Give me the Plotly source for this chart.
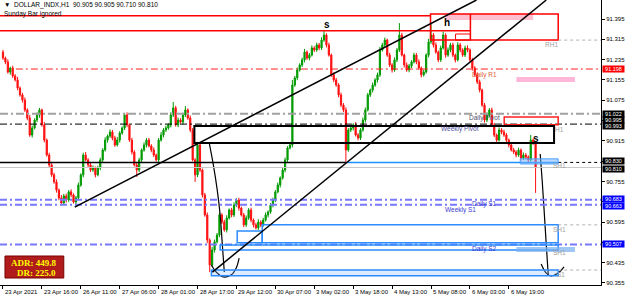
import plotly.graph_objects as go

# ---------------- data ----------------
tick_bars = [0, 16, 32, 48, 64, 80, 96, 112, 128, 144, 160, 176, 192, 208]
tick_labels = ["23 Apr 2021", "23 Apr 16:00", "26 Apr 11:00", "27 Apr 06:00", "28 Apr 01:00",
               "28 Apr 17:00", "29 Apr 12:00", "30 Apr 07:00", "3 May 02:00", "3 May 18:00",
               "4 May 13:00", "5 May 08:00", "6 May 03:00", "6 May 19:00"]

first_open = 91.265
closes = [
    91.241, 91.226, 91.186, 91.202, 91.171, 91.155, 91.123, 91.096, 91.076, 91.037,
    91.005, 90.938, 90.966, 90.997, 91.017, 91.037, 90.978, 90.918, 90.859, 90.820,
    90.781, 90.753, 90.721, 90.690, 90.670, 90.698, 90.682, 90.714, 90.702, 90.674,
    90.690, 90.741, 90.781, 90.859, 90.840, 90.820, 90.800, 90.808, 90.781, 90.808,
    90.840, 90.879, 90.918, 90.934, 90.950, 90.926, 90.899, 90.918, 90.946, 90.966,
    91.017, 90.978, 90.918, 90.871, 90.820, 90.800, 90.840, 90.879, 90.899, 90.918,
    90.895, 90.879, 90.859, 90.840, 90.918, 90.938, 90.958, 90.966, 90.978, 91.017,
    91.045, 90.978, 90.997, 90.989, 91.017, 91.037, 91.005, 90.958, 90.840, 90.781,
    90.899, 90.800, 90.702, 90.623, 90.524, 90.426, 90.485, 90.517, 90.544, 90.623,
    90.595, 90.564, 90.611, 90.643, 90.623, 90.662, 90.682, 90.650, 90.623, 90.584,
    90.611, 90.643, 90.603, 90.584, 90.572, 90.595, 90.584, 90.603, 90.623, 90.635,
    90.662, 90.682, 90.714, 90.741, 90.769, 90.800, 90.840, 90.887, 90.899, 91.135,
    91.163, 91.194, 91.214, 91.234, 91.265, 91.241, 91.253, 91.281, 91.273, 91.293,
    91.281, 91.312, 91.332, 91.293, 91.253, 91.175, 91.155, 91.135, 91.096, 91.056,
    91.037, 90.879, 90.958, 90.966, 90.978, 90.938, 90.926, 90.958, 90.997, 91.037,
    91.096, 91.115, 91.135, 91.155, 91.175, 91.273, 91.293, 91.312, 91.253, 91.214,
    91.194, 91.234, 91.273, 91.332, 91.253, 91.214, 91.194, 91.210, 91.226, 91.253,
    91.226, 91.202, 91.175, 91.186, 91.253, 91.305, 91.332, 91.293, 91.265, 91.234,
    91.281, 91.332, 91.253, 91.273, 91.293, 91.253, 91.234, 91.293, 91.273, 91.253,
    91.281, 91.273, 91.234, 91.202, 91.175, 91.147, 91.115, 91.056, 90.997, 91.017,
    91.037, 90.978, 90.938, 90.918, 90.958, 90.950, 90.938, 90.918, 90.899, 90.879,
    90.871, 90.859, 90.879, 90.847, 90.859, 90.851, 90.840, 90.918, 90.905, 90.810,
]
# wick lengths above / below the body, in thousandths of a point
up_wick = [
    8, 6, 10, 5, 9, 7, 12, 6, 8, 10,  6, 12, 9, 7, 10, 8, 5, 11, 6, 9,
    7, 8, 10, 6, 12, 8, 9, 7, 10, 6,  8, 10, 6, 9, 12, 7, 8, 10, 6, 9,
    8, 7, 11, 6, 10, 8, 9, 12, 7, 6,  8, 10, 6, 9, 7, 11, 8, 6, 10, 8,
    9, 7, 10, 6, 8, 12, 7, 9, 6, 10,  23, 8, 10, 7, 9, 15, 6, 10, 8, 7,
    12, 9, 6, 8, 10, 7, 12, 9, 8, 10,  7, 9, 11, 6, 8, 10, 7, 9, 6, 8,
    10, 7, 9, 6, 8, 11, 7, 9, 10, 6,  8, 9, 7, 10, 6, 8, 9, 7, 10, 20,
    8, 10, 7, 9, 12, 6, 8, 10, 7, 9,  8, 11, 20, 7, 9, 6, 10, 8, 7, 9,
    8, 10, 7, 9, 6, 11, 8, 7, 10, 9,  8, 6, 10, 7, 9, 12, 8, 10, 6, 9,
    7, 10, 8, 47, 9, 6, 10, 8, 7, 9,  8, 10, 6, 9, 7, 12, 43, 8, 10, 6,
    9, 14, 7, 10, 8, 9, 6, 11, 8, 7,  9, 10, 6, 8, 7, 10, 9, 6, 8, 10,
    7, 9, 8, 6, 10, 7, 9, 8, 6, 10,  8, 7, 9, 6, 10, 8, 7, 20, 6, 0,
]
dn_wick = [
    7, 9, 6, 10, 8, 6, 9, 7, 10, 8,  9, 7, 10, 6, 8, 11, 7, 9, 6, 10,
    8, 7, 10, 9, 6, 8, 10, 7, 9, 6,  19, 8, 7, 10, 6, 9, 8, 7, 10, 6,
    9, 8, 6, 10, 7, 9, 8, 6, 10, 7,  8, 9, 7, 10, 6, 27, 8, 9, 7, 10,
    6, 9, 8, 7, 10, 6, 9, 8, 7, 10,  8, 7, 9, 6, 10, 8, 7, 9, 6, 28,
    9, 8, 10, 7, 12, 28, 8, 10, 6, 9,  8, 7, 10, 6, 9, 8, 7, 10, 6, 9,
    8, 7, 9, 10, 6, 8, 9, 7, 6, 10,  7, 9, 8, 6, 10, 7, 9, 8, 6, 10,
    7, 9, 6, 8, 10, 7, 9, 6, 8, 7,  9, 8, 7, 10, 6, 8, 9, 7, 10, 8,
    9, 51, 7, 8, 10, 6, 9, 8, 7, 10,  6, 8, 9, 7, 10, 8, 6, 9, 7, 8,
    10, 7, 9, 8, 6, 10, 7, 9, 8, 6,  9, 8, 10, 7, 6, 9, 8, 10, 7, 9,
    8, 6, 10, 7, 9, 8, 10, 6, 9, 7,  8, 9, 7, 10, 6, 8, 9, 7, 10, 8,
    9, 7, 8, 10, 6, 9, 7, 8, 10, 6,  8, 9, 7, 10, 6, 8, 9, 7, 6, 100,
]

# price levels of drawn objects
y_ticks = [91.395, 91.315, 91.235, 91.155, 91.075, 90.995, 90.915, 90.835,
           90.755, 90.675, 90.595, 90.515, 90.435, 90.355]
hidden_ticks = [90.995, 90.835, 90.675, 90.515]   # covered by the coloured price labels
daily_r1 = 91.198
daily_pivot = 91.022
weekly_pivot = 90.981
daily_s1 = 90.683
weekly_s1 = 90.663
daily_s2 = 90.507
support_line = 90.830
bid = 90.810

bars = list(range(len(closes)))
opens = [first_open] + closes[:-1]
highs = [round(max(o, c) + u / 1000, 3) for o, c, u in zip(opens, closes, up_wick)]
lows = [round(min(o, c) - d / 1000, 3) for o, c, d in zip(opens, closes, dn_wick)]

# ---------------- figure ----------------
FONT = "Liberation Sans"
X0, X1 = -1.23, 245.9
Y0, Y1 = 90.347, 91.470

fig = go.Figure()
fig.add_trace(go.Candlestick(
    x=bars, open=opens, high=highs, low=lows, close=closes,
    increasing=dict(line=dict(color="#009a00", width=1), fillcolor="#009a00"),
    decreasing=dict(line=dict(color="#ff1010", width=1), fillcolor="#ff1010"),
    whiskerwidth=0, hoverinfo="skip", showlegend=False,
))

shapes = []


def hline(y, x0, x1, color, width=1, dash="solid"):
    shapes.append(dict(type="line", xref="x", yref="y", x0=x0, x1=x1, y0=y, y1=y,
                       line=dict(color=color, width=width, dash=dash), layer="above"))


def rect(x0, x1, y0, y1, color, width=1, fill="rgba(0,0,0,0)", layer="above"):
    shapes.append(dict(type="rect", xref="x", yref="y", x0=x0, x1=x1, y0=y0, y1=y1,
                       line=dict(color=color, width=width), fillcolor=fill, layer=layer))


# top resistance zone (red)
rect(182.0, 218.0, 91.391, 91.415, "rgba(0,0,0,0)", 0, fill="rgba(255,170,190,0.75)", layer="below")
hline(91.408, X0, 175.8, "#ff0000", 1.5)
hline(91.349, X0, 192.2, "#ff0000", 1.5)
rect(175.8, 228.3, 91.312, 91.415, "#ff0000", 1.5)
shapes.append(dict(type="line", xref="x", yref="y", x0=192.2, x1=192.2, y0=91.312, y1=91.415,
                   line=dict(color="#ff0000", width=1.5)))
rect(186.1, 192.2, 91.312, 91.336, "#ff0000", 1)
hline(91.312, 228.3, X1, "#b0b0b0", 1, "dot")

# daily R1
hline(daily_r1, 5.3, X1, "#ff2020", 1, "7px,3px,2px,3px")
rect(211.1, 235.2, 91.147, 91.167, "rgba(0,0,0,0)", 0, fill="rgba(255,170,210,0.85)", layer="below")

# pivots
hline(daily_pivot, X0, X1, "#a0a0a0", 2, "8px,3px,2px,3px")
hline(weekly_pivot, X0, X1, "#000000", 1, "7px,3px,2px,3px")
rect(206.1, 228.3, 90.978, 91.009, "#ff2020", 1.5)
rect(78.7, 226.6, 90.907, 90.974, "#000000", 2)

# support line around 90.830
hline(support_line, X0, 141.0, "#000000", 1.5)
hline(support_line, 141.0, 228.3, "#1e8fff", 1.5)
hline(support_line, 228.3, X1, "#000000", 1, "dot")
hline(bid, X0, X1, "#c8c8c8", 1)
rect(212.7, 228.3, 90.824, 90.844, "#4aa0ff", 1, fill="rgba(120,180,255,0.5)")

# daily / weekly supports
for lv in (daily_s1, weekly_s1, daily_s2):
    hline(lv, X0, X1, "#7878ff", 2, "7px,3px,2px,3px")

# blue demand zones
rect(106.6, 228.3, 90.513, 90.584, "#2a8cff", 1.5)
rect(96.3, 106.6, 90.513, 90.560, "#2a8cff", 1.5)
rect(89.3, 228.3, 90.485, 90.505, "#2a8cff", 1.5)
rect(85.7, 228.3, 90.383, 90.406, "#2a8cff", 1.5, fill="rgba(120,180,255,0.25)")
rect(211.1, 235.2, 90.477, 90.497, "rgba(0,0,0,0)", 0, fill="rgba(120,175,240,0.7)")
hline(90.584, 228.3, X1, "#b0b0b0", 1, "dot")
hline(90.406, 228.3, X1, "#b0b0b0", 1, "dot")

# trend lines
shapes.append(dict(type="line", xref="x", yref="y", x0=29.5, y0=90.654, x1=194.7, y1=91.470,
                   line=dict(color="#000000", width=1.5)))
shapes.append(dict(type="line", xref="x", yref="y", x0=86.1, y0=90.398, x1=223.4, y1=91.470,
                   line=dict(color="#000000", width=1.5)))

# ADR box (paper coords)
shapes.append(dict(type="rect", xref="paper", yref="paper", x0=5 / 603, x1=64 / 603,
                   y0=1 - 278 / 285, y1=1 - 256 / 285, fillcolor="#b01c1c",
                   line=dict(color="#7a0000", width=1)))

# hand-drawn arrows
arrow1_x = [84.8, 86.5, 88.1, 89.3, 90.2, 91.0]
arrow1_y = [90.907, 90.820, 90.721, 90.623, 90.505, 90.398]
curl1_x = [85.7, 87.7, 90.6, 93.9, 95.9, 97.1]
curl1_y = [90.426, 90.398, 90.379, 90.387, 90.414, 90.453]
arrow2_x = [220.9, 221.7, 222.5, 223.4, 224.2]
arrow2_y = [90.863, 90.761, 90.643, 90.505, 90.387]
curl2_x = [221.3, 223.4, 225.4, 228.3, 230.7]
curl2_y = [90.430, 90.394, 90.383, 90.394, 90.418]
for xs, ys in ((arrow1_x, arrow1_y), (curl1_x, curl1_y), (arrow2_x, arrow2_y), (curl2_x, curl2_y)):
    fig.add_trace(go.Scatter(x=xs, y=ys, mode="lines", line=dict(color="#000000", width=1.2, shape="spline"),
                             hoverinfo="skip", showlegend=False))

annotations = []


def txt(x, y, s, color="#000000", size=6.5, xanchor="center", xref="x", yref="y", family=FONT, bold=False):
    annotations.append(dict(x=x, y=y, xref=xref, yref=yref, text=("<b>%s</b>" % s) if bold else s,
                            showarrow=False, xanchor=xanchor, yanchor="middle",
                            font=dict(color=color, size=size, family=family)))


txt(133.2, 91.372, "s", size=10, bold=True)
txt(182.4, 91.383, "h", size=10, bold=True)
txt(219.3, 90.926, "s", size=10, bold=True)
txt(225.4, 91.293, "RH1", "#a0a0a0")
txt(198.0, 91.175, "Daily R1", "#e0603a")
txt(198.0, 91.005, "Daily Pivot", "#505070")
txt(188.0, 90.962, "Weekly Pivot", "#5050a0")
txt(229.0, 90.958, "H1", "#a0a0a0")
txt(229.0, 90.816, "SH1", "#a0a0a0")
txt(198.0, 90.666, "Daily S1", "#3a3ad0")
txt(188.0, 90.643, "Weekly S1", "#3a3ad0")
txt(229.0, 90.564, "SH1", "#a0a0a0")
txt(198.0, 90.489, "Daily S2", "#3a3ad0")
txt(229.0, 90.477, "SH1", "#a0a0a0")
txt(229.5, 90.387, "S1", "#a0a0a0")

# header
txt(2 / 603, 1 - 5 / 285, "\u25bc  DOLLAR_INDX,H1  90.905 90.905 90.710 90.810", size=6.5, xanchor="left",
    xref="paper", yref="paper")
txt(2 / 603, 1 - 14 / 285, "Sunday Bar ignored", size=6.5, xanchor="left", xref="paper", yref="paper")

# ADR text
txt(58 / 603, 1 - 263 / 285, "ADR: 449.8", "#ffff00", 9, "right", "paper", "paper", "Liberation Serif", True)
txt(58 / 603, 1 - 273 / 285, "DR: 225.0", "#ffff00", 9, "right", "paper", "paper", "Liberation Serif", True)

# date labels
for b, lab in zip(tick_bars, tick_labels):
    annotations.append(dict(x=b, y=0, xref="x", yref="paper", yshift=-2, text=lab, showarrow=False,
                            xanchor="left", yanchor="top", font=dict(size=6, family=FONT, color="#000000")))

# price labels on the axis: (level, text, background, vertical nudge in px)
axis_labels = [(daily_r1, "91.198", "#ff0000", 0), (daily_pivot, "91.022", "#000000", 0),
               (90.995, "90.995", "#000000", 1), (90.995, "90.993", "#000000", -5),
               (support_line, "90.830", "#000000", 1), (bid, "90.810", "#000000", -1),
               (daily_s1, "90.683", "#0000ff", 1), (weekly_s1, "90.663", "#0000ff", -1),
               (daily_s2, "90.507", "#0000ff", 0)]
for lv, s, bg, dy in axis_labels:
    annotations.append(dict(x=1, y=lv, xref="paper", yref="y", xshift=1, yshift=dy, text=s, showarrow=False,
                            xanchor="left", yanchor="middle", bgcolor=bg, borderpad=0, width=21, height=6,
                            font=dict(size=5.5, family=FONT, color="#ffffff")))

fig.update_layout(
    width=625, height=300, margin=dict(l=0, r=22, t=0, b=15),
    paper_bgcolor="#ffffff", plot_bgcolor="#ffffff",
    shapes=shapes, annotations=annotations, showlegend=False,
    xaxis=dict(range=[X0, X1], showgrid=False, zeroline=False, showline=True, linecolor="#000000",
               linewidth=1, ticks="outside", ticklen=3, tickcolor="#000000", tickvals=tick_bars,
               showticklabels=False, rangeslider=dict(visible=False), fixedrange=True),
    yaxis=dict(range=[Y0, Y1], side="right", showgrid=False, zeroline=False, showline=True,
               linecolor="#000000", linewidth=1, ticks="outside", ticklen=3, tickcolor="#000000",
               tickvals=y_ticks,
               ticktext=["" if v in hidden_ticks else "%.3f" % v for v in y_ticks],
               tickfont=dict(size=6, family=FONT, color="#000000"), fixedrange=True),
)

fig.write_html("out.html")
